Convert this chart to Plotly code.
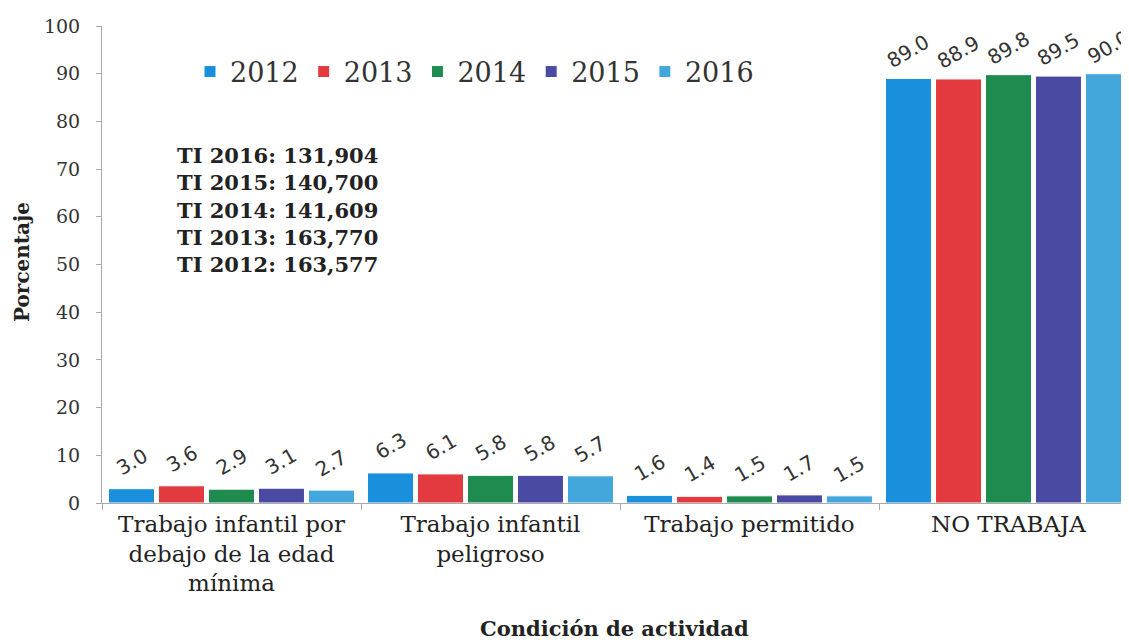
import plotly.graph_objects as go

categories = ["Trabajo infantil por<br>debajo de la edad<br>mínima",
              "Trabajo infantil<br>peligroso",
              "Trabajo permitido",
              "NO TRABAJA"]
years = ["2012", "2013", "2014", "2015", "2016"]
values = {
    "2012": [3.0, 6.3, 1.6, 89.0],
    "2013": [3.6, 6.1, 1.4, 88.9],
    "2014": [2.9, 5.8, 1.5, 89.8],
    "2015": [3.1, 5.8, 1.7, 89.5],
    "2016": [2.7, 5.7, 1.5, 90.0],
}
colors = {"2012": "#1a8fdc", "2013": "#e23a3f", "2014": "#1e8c4e",
          "2015": "#4b4aa2", "2016": "#43a7db"}
ti_lines = ["TI 2016: 131,904", "TI 2015: 140,700", "TI 2014: 141,609",
            "TI 2013: 163,770", "TI 2012: 163,577"]

# page body has an 8px margin; size the figure so the plot lands where the reference has it
W, H = 1121, 635
ml, mr, mt, mb = 94, 0, 18, 140
pw = W - ml - mr
ph = H - mt - mb
SERIF = "DejaVu Serif"
px_per_cat = 259
bargap = 0.035
slot_px = px_per_cat * (1 - bargap) / len(years)

fig = go.Figure()
for i, y in enumerate(years):
    fig.add_trace(go.Bar(
        name=y, x=categories, y=values[y],
        marker=dict(color=colors[y], line=dict(color="white", width=1)),
    ))
    # value labels: rotated, floating a little above each bar
    for cat, v in zip(categories, values[y]):
        fig.add_annotation(
            x=cat, y=v, xref="x", yref="y",
            xshift=(i - (len(years) - 1) / 2) * slot_px, yshift=27,
            text="%.1f" % v, textangle=-30, showarrow=False,
            font=dict(family="DejaVu Sans", size=20, color="#333333"),
        )

fig.add_annotation(
    text="<br>".join("<b>%s</b>" % t for t in ti_lines),
    xref="paper", yref="paper", x=(175 - 102) / pw, y=(503 - 141) / ph,
    xanchor="left", yanchor="top", align="left", showarrow=False,
    font=dict(family=SERIF, size=21, color="#222222"),
)
fig.add_annotation(
    text="<b>Condición de actividad</b>",
    xref="paper", yref="paper", x=(614 - 102) / pw, y=(503 - 628) / ph,
    xanchor="center", yanchor="middle", showarrow=False,
    font=dict(family=SERIF, size=21, color="#222222"),
)
fig.add_annotation(
    text="<b>Porcentaje</b>",
    xref="paper", yref="paper", x=(22 - 102) / pw, y=(503 - 262) / ph,
    xanchor="center", yanchor="middle", showarrow=False, textangle=-90,
    font=dict(family=SERIF, size=20, color="#222222"),
)

fig.update_layout(
    width=W, height=H,
    margin=dict(l=ml, r=mr, t=mt, b=mb),
    paper_bgcolor="white", plot_bgcolor="white",
    barmode="group", bargap=bargap, bargroupgap=0.08,
    showlegend=True,
    legend=dict(orientation="h", x=(190 - 102) / pw, y=(503 - 72) / ph,
                xanchor="left", yanchor="middle",
                font=dict(family=SERIF, size=27, color="#333333"),
                bgcolor="rgba(0,0,0,0)", itemwidth=30),
    xaxis=dict(
        range=[-0.5, -0.5 + pw / px_per_cat],
        tickson="boundaries", ticks="outside", ticklen=6, tickcolor="#aaaaaa",
        showline=True, linecolor="#aaaaaa", linewidth=1,
        tickfont=dict(family=SERIF, size=23, color="#222222"),
    ),
    yaxis=dict(
        range=[0, 100], dtick=10, showgrid=False, zeroline=False,
        ticks="outside", ticklen=5, tickcolor="#aaaaaa", ticklabelstandoff=12,
        showline=True, linecolor="#aaaaaa", linewidth=1,
        tickfont=dict(family=SERIF, size=19, color="#333333"),
    ),
)

fig.write_html("out.html")
